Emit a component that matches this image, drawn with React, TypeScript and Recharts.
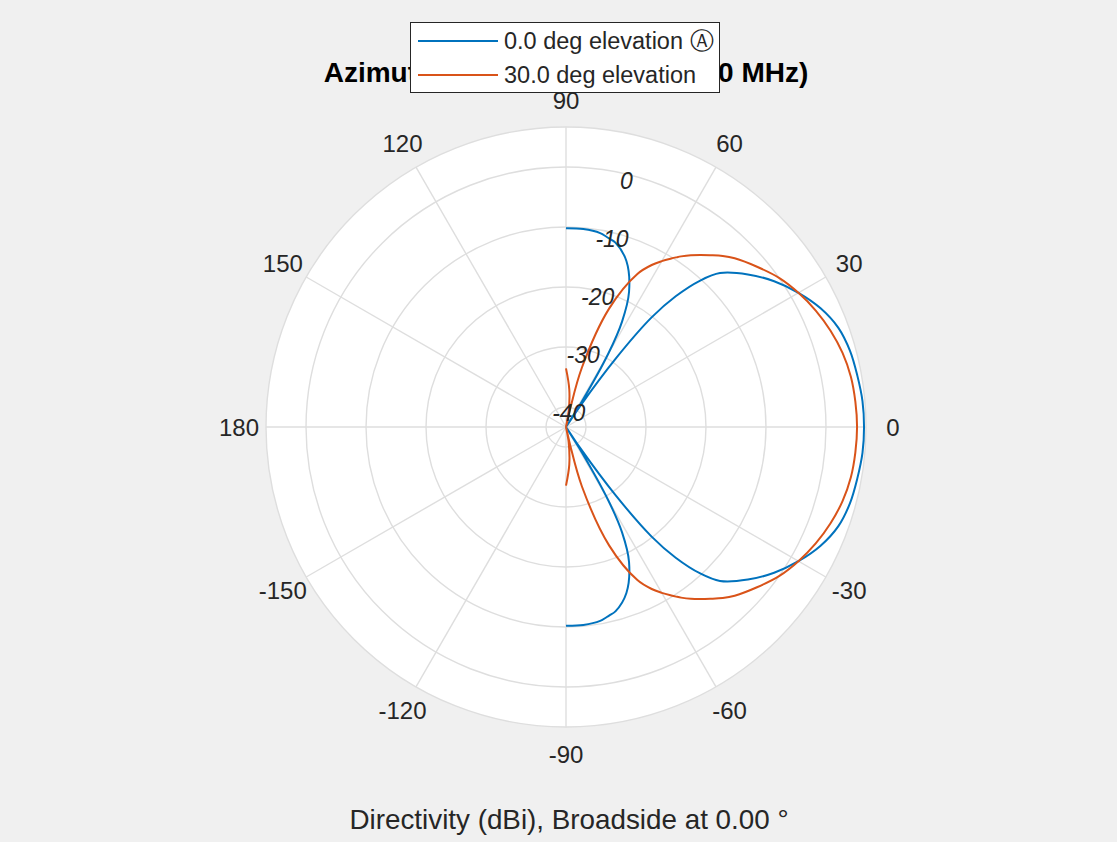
import { RadarChart, Radar, PolarGrid, PolarAngleAxis, PolarRadiusAxis, Legend } from 'recharts'

// azimuth angles (deg) the pattern was sampled at; null = outside the plotted half-plane
const azimuthDeg = [
  -180, -90, -85, -80, -78, -77, -75, -70, -65, -62, -60, -58, -57, -56, -54, -52, -50, -47.5,
  -45, -40, -35, -30, -25, -20, -15, -10, -5, 0, 5, 10, 15, 20, 25, 30, 35, 40, 45, 47.5,
  50, 52, 54, 56, 57, 58, 60, 62, 65, 70, 75, 77, 78, 80, 85, 90, 180,
]

// directivity in dBi, 0 deg elevation (nulls clipped at the range floor -43.3)
const elev0 = [
  null, -10.0, -10.0, -10.3, -10.7, -10.9, -11.3, -13.7, -18.3, -23.3, -29.2, -38.3, -43.3, -39.2, -29.2, -20.0, -14.7, -10.0,
  -6.8, -3.5, -0.7, 1.7, 3.8, 5.3, 6.0, 6.3, 6.6, 6.67, 6.6, 6.3, 6.0, 5.3, 3.8, 1.7, -0.7, -3.5, -6.8, -10.0,
  -14.7, -20.0, -29.2, -39.2, -43.3, -38.3, -29.2, -23.3, -18.3, -13.7, -11.3, -10.9, -10.7, -10.3, -10.0, -10.0, null,
]

// directivity in dBi, 30 deg elevation
const elev30 = [
  null, -33.5, -37.0, -40.8, -43.3, -40.2, -33.0, -22.2, -15.0, -12.5, -11.2, -10.0, -9.4, -8.8, -7.7, -6.7, -5.7, -4.4,
  -3.3, -1.5, 0.3, 1.7, 2.9, 3.9, 4.7, 5.2, 5.4, 5.5, 5.4, 5.2, 4.7, 3.9, 2.9, 1.7, 0.3, -1.5, -3.3, -4.4,
  -5.7, -6.7, -7.7, -8.8, -9.4, -10.0, -11.2, -12.5, -15.0, -22.2, -33.0, -40.2, -43.3, -40.8, -37.0, -33.5, null,
]

const angleTicks = [-150, -120, -90, -60, -30, 0, 30, 60, 90, 120, 150, 180]
const gridAngles = [-180, -150, -120, -90, -60, -30, 0, 30, 60, 90, 120, 150]
const radiusTicks = [-40, -30, -20, -10, 0]
const radiusDomain = [-43.33, 6.67]

const data = azimuthDeg.map((angle, i) => ({ angle, el0: elev0[i], el30: elev30[i] }))

const W = 1117
const H = 842
const CX = 566
const CY = 427
const R = 300
const FONT = '"Liberation Sans", Arial, Helvetica, sans-serif'
const TEXT = '#262626'
const BLUE = '#0072bd'
const ORANGE = '#d95319'
const colors: Record<string, string> = { el0: BLUE, el30: ORANGE }

const gridRadii = [
  ...radiusTicks.map(t => ((t - radiusDomain[0]) / (radiusDomain[1] - radiusDomain[0])) * R),
  R,
]

const AngleTick = ({ x, y, payload }: any) => (
  <text x={x} y={y} textAnchor="middle" dominantBaseline="central" fill={TEXT} fontSize={24} fontFamily={FONT}>
    {payload.value}
  </text>
)

const RadiusTick = ({ x, y, payload }: any) => (
  <text x={x - 2} y={y + 5} textAnchor="middle" dominantBaseline="central" fill={TEXT} fontSize={23}
    fontStyle="italic" fontFamily={FONT}>
    {payload.value}
  </text>
)

type Pt = { x: number; y: number }
const dist = (a: Pt, b: Pt) => Math.hypot(a.x - b.x, a.y - b.y)

// open smooth (centripetal catmull-rom) curve through the radar points, no closing edge
const OpenCurve = (props: any) => {
  const { points, stroke, strokeWidth } = props
  const segments: Pt[][] = []
  let prevIdx = -2
  ;(points || []).forEach((p: any) => {
    const idx = azimuthDeg.indexOf(p.payload?.angle)
    const ok = p.value != null && Number.isFinite(p.x) && Number.isFinite(p.y)
    if (!ok) {
      prevIdx = -2
      return
    }
    if (idx !== prevIdx + 1 || segments.length === 0) segments.push([])
    segments[segments.length - 1].push({ x: p.x, y: p.y })
    prevIdx = idx
  })
  let d = ''
  segments.forEach(seg => {
    if (!seg.length) return
    d += `M${seg[0].x},${seg[0].y}`
    for (let i = 0; i < seg.length - 1; i++) {
      const p0 = seg[i - 1]
      const p1 = seg[i]
      const p2 = seg[i + 1]
      const p3 = seg[i + 2]
      const l12 = dist(p1, p2)
      const l12a = Math.sqrt(l12)
      let c1: Pt = { x: p1.x, y: p1.y }
      let c2: Pt = { x: p2.x, y: p2.y }
      if (p0) {
        const l01 = dist(p0, p1)
        const l01a = Math.sqrt(l01)
        if (l01a > 1e-6) {
          const a = 2 * l01 + 3 * l01a * l12a + l12
          const n = 3 * l01a * (l01a + l12a)
          c1 = { x: (p1.x * a - p0.x * l12 + p2.x * l01) / n, y: (p1.y * a - p0.y * l12 + p2.y * l01) / n }
        }
      }
      if (p3) {
        const l23 = dist(p2, p3)
        const l23a = Math.sqrt(l23)
        if (l23a > 1e-6) {
          const b = 2 * l23 + 3 * l23a * l12a + l12
          const m = 3 * l23a * (l23a + l12a)
          c2 = { x: (p2.x * b + p1.x * l23 - p3.x * l12) / m, y: (p2.y * b + p1.y * l23 - p3.y * l12) / m }
        }
      }
      d += `C${c1.x},${c1.y} ${c2.x},${c2.y} ${p2.x},${p2.y}`
    }
  })
  return <path d={d} fill="none" stroke={stroke} strokeWidth={strokeWidth} strokeLinejoin="round" />
}

const renderLegend = ({ payload }: any) => (
  <div style={{
    boxSizing: 'border-box', width: 310, height: 71, background: '#fff', border: '1px solid #262626',
    paddingTop: 1, fontFamily: FONT, fontSize: 23.5, color: TEXT,
  }}>
    {(payload || []).map((entry: any) => (
      <div key={entry.dataKey} style={{ display: 'flex', alignItems: 'center', height: 34, whiteSpace: 'nowrap' }}>
        <span style={{ display: 'inline-block', width: 80, borderTop: `2px solid ${colors[entry.dataKey]}`, marginLeft: 7, marginRight: 6 }} />
        <span>{entry.value}</span>
      </div>
    ))}
  </div>
)

export default function App() {
  return (
    <div style={{ position: 'fixed', left: 0, top: 0, width: W, height: H, background: '#f0f0f0' }}>
      <svg width={W} height={H} style={{ position: 'absolute', left: 0, top: 0 }}>
        <circle cx={CX} cy={CY} r={R} fill="#fff" />
        <text x={CX} y={82} textAnchor="middle" fontFamily={FONT} fontWeight="bold" fontSize={28} fill="#000">
          Azimuth Cut (frequency = 1000 MHz)
        </text>
        <text x={569} y={829} textAnchor="middle" fontFamily={FONT} fontSize={27.8} fill={TEXT}>
          Directivity (dBi), Broadside at 0.00 °
        </text>
      </svg>
      <div style={{ position: 'absolute', left: 0, top: 0 }}>
        <RadarChart width={W} height={H} data={data} cx={CX} cy={CY} outerRadius={R} innerRadius={0}
          startAngle={-180} endAngle={180} margin={{ top: 0, right: 0, bottom: 0, left: 0 }}>
          <PolarGrid gridType="circle" polarRadius={gridRadii} polarAngles={gridAngles}
            stroke="#dedede" strokeWidth={1.4} />
          <PolarAngleAxis dataKey="angle" type="number" domain={[-180, 180]} allowDataOverflow ticks={angleTicks}
            tick={AngleTick} tickLine={false} axisLine={false} tickSize={27} />
          <PolarRadiusAxis angle={76} type="number" domain={radiusDomain} allowDataOverflow ticks={radiusTicks}
            tick={RadiusTick} tickLine={false} axisLine={false} />
          <Radar name="0.0 deg elevation Ⓐ" dataKey="el0" stroke={BLUE} strokeWidth={2} fill="none" fillOpacity={0}
            shape={OpenCurve} dot={false} activeDot={false} isAnimationActive={false} />
          <Radar name="30.0 deg elevation" dataKey="el30" stroke={ORANGE} strokeWidth={2} fill="none" fillOpacity={0}
            shape={OpenCurve} dot={false} activeDot={false} isAnimationActive={false} />
          <Legend content={renderLegend} wrapperStyle={{ position: 'absolute', left: 410, top: 22, width: 310, height: 71 }} />
        </RadarChart>
      </div>
    </div>
  )
}
